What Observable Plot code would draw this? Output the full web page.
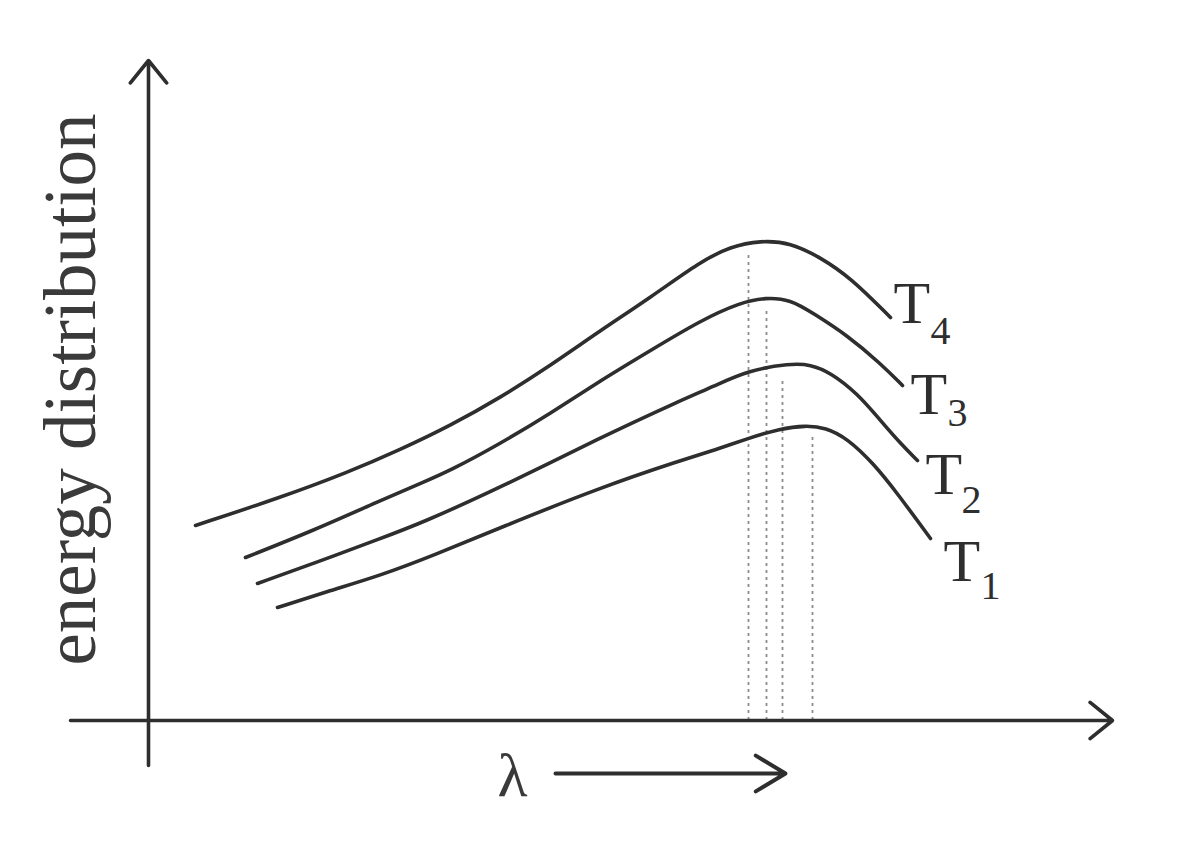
<!DOCTYPE html>
<html><head><meta charset="utf-8">
<script src="https://cdn.jsdelivr.net/npm/d3@7"></script>
<script src="https://cdn.jsdelivr.net/npm/@observablehq/plot@0.6"></script>
<style>html,body{margin:0;padding:0;background:#fff;overflow:hidden}</style>
</head><body><div id="chart"></div>
<script>
// Series (λ in arbitrary units from the energy axis, E = energy distribution, arbitrary units)
const seriesNames = ["T1", "T2", "T3", "T4"];
const subscripts = ["1", "2", "3", "4"];

const t1Lambda = [129, 182, 232, 285, 352, 452, 532, 565, 599, 632, 657, 677, 699, 725, 749, 782];
const t1Energy = [113, 130, 145, 165, 193, 233, 260, 270, 282, 292, 295, 293, 282, 257, 227, 182];

const t2Lambda = [109, 165, 232, 272, 352, 452, 532, 565, 599, 642, 662, 682, 709, 732, 752, 769];
const t2Energy = [137, 157, 182, 197, 233, 283, 320, 334, 350, 357, 356, 348, 327, 300, 277, 260];

const t3Lambda = [97, 165, 232, 272, 302, 352, 402, 452, 502, 552, 592, 617, 642, 665, 699, 732, 754];
const t3Energy = [163, 190, 220, 237, 250, 277, 307, 340, 370, 400, 418, 423, 421, 407, 385, 357, 335];

const t4Lambda = [47, 132, 199, 252, 302, 352, 402, 452, 502, 552, 582, 612, 642, 672, 702, 742];
const t4Energy = [195, 223, 248, 271, 295, 323, 355, 390, 423, 459, 474, 480, 478, 463, 443, 403];

// Peak wavelengths (dotted drop lines), T1..T4
const peakLambda = [664, 634, 618, 600];
const peakEnergy = [283, 343, 410, 467];

// Label anchor points for T1..T4 and their subscripts
const labelLambda = [795, 777, 762, 745];
const labelEnergy = [140, 227, 307, 398];
const subLambda = [832, 813, 799, 782];
const subEnergy = [122, 208, 295, 377];

const yAxisLabel = "energy distribution";
const xAxisLabel = "λ";

// Axis extents
const xAxisFrom = -78, xAxisTo = 964;
const yAxisFrom = -45, yAxisTo = 660;
const lambdaArrow = [407, 637, -53];

const lambdas = [t1Lambda, t2Lambda, t3Lambda, t4Lambda];
const energies = [t1Energy, t2Energy, t3Energy, t4Energy];
const curves = seriesNames.flatMap((name, i) =>
  lambdas[i].map((l, j) => ({series: name, lambda: l, energy: energies[i][j]})));

const peaks = seriesNames.map((name, i) => ({series: name, lambda: peakLambda[i], energy: peakEnergy[i]}));
const labels = seriesNames.map((name, i) => ({
  t: "T", sub: subscripts[i],
  lx: labelLambda[i], ly: labelEnergy[i], sx: subLambda[i], sy: subEnergy[i]
}));

const axes = [
  {x1: xAxisFrom, y1: 0, x2: xAxisTo, y2: 0},
  {x1: 0, y1: yAxisFrom, x2: 0, y2: yAxisTo}
];

const serif = "'Liberation Serif', 'DejaVu Serif', serif";
const ink = "#2e2e2e";

const chart = Plot.plot({
  width: 1183,
  height: 845,
  margin: 0,
  style: {background: "#fff", fontFamily: serif},
  x: {domain: [-148, 1035], axis: null},
  y: {domain: [-125, 720], axis: null},
  marks: [
    Plot.ruleX(peaks, {x: "lambda", y1: 0, y2: "energy", stroke: "#8c8c8c", strokeWidth: 1.8, strokeDasharray: "3,4"}),
    Plot.arrow(axes, {x1: "x1", y1: "y1", x2: "x2", y2: "y2", stroke: ink, strokeWidth: 3.6, headLength: 12, headAngle: 78}),
    Plot.line(curves, {x: "lambda", y: "energy", z: "series", curve: "basis", stroke: ink, strokeWidth: 3.6}),
    Plot.text(labels, {x: "lx", y: "ly", text: "t", textAnchor: "start", lineAnchor: "bottom", fontSize: 60, fill: ink}),
    Plot.text(labels, {x: "sx", y: "sy", text: "sub", textAnchor: "start", lineAnchor: "bottom", fontSize: 40, fill: ink}),
    Plot.text([yAxisLabel], {x: -54, y: 331, text: d => d, rotate: -90, textAnchor: "middle", lineAnchor: "bottom", fontSize: 73, fill: "#3a3a3a"}),
    Plot.text([xAxisLabel], {x: 349, y: -75, text: d => d, textAnchor: "start", lineAnchor: "bottom", fontSize: 62, fill: "#3a3a3a"}),
    Plot.arrow([lambdaArrow], {x1: d => d[0], x2: d => d[1], y1: d => d[2], y2: d => d[2], stroke: ink, strokeWidth: 4, headLength: 13, headAngle: 62})
  ]
});
document.getElementById("chart").append(chart);
</script>
</body></html>
